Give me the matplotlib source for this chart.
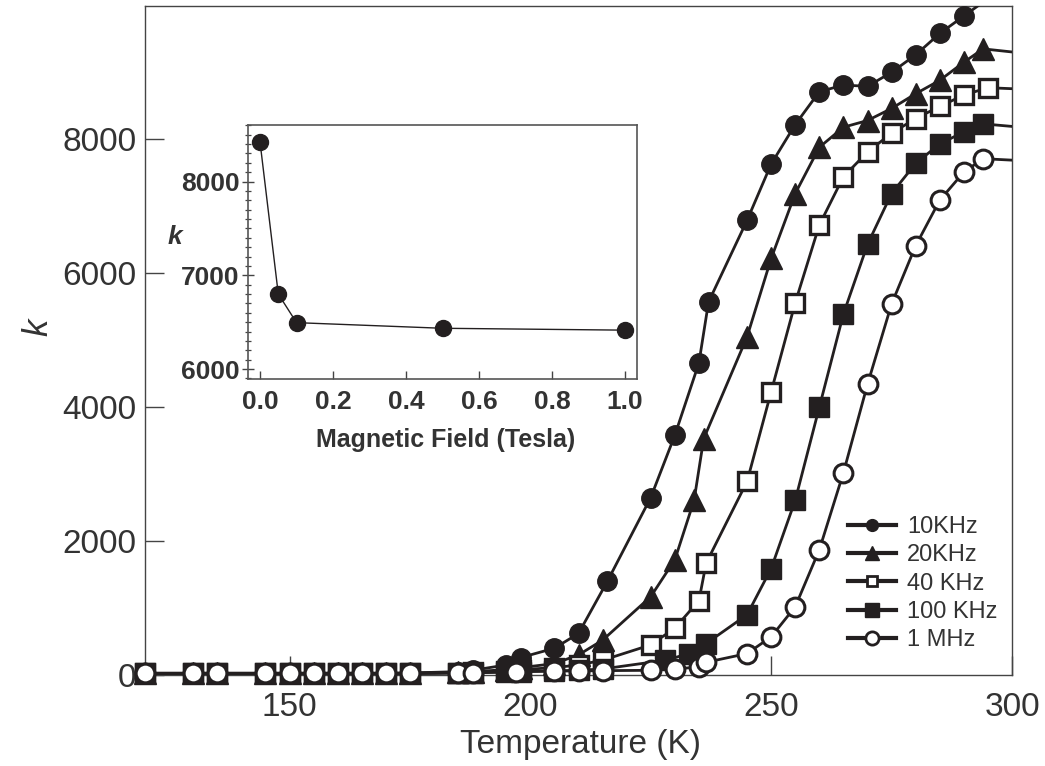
import matplotlib
matplotlib.use("Agg")
import matplotlib.pyplot as plt
from matplotlib.lines import Line2D
from matplotlib.ticker import MultipleLocator
import numpy as np

plt.rcParams['font.family'] = ['Liberation Sans', 'DejaVu Sans']

# ---------------- data ----------------
low_T = [120, 130, 135, 145, 150, 155, 160, 165, 170, 175, 185, 188]

T_10k = low_T + [195, 198, 205, 210, 216, 225, 230, 235, 237, 245, 250, 255, 260, 265, 270, 275, 280, 285, 290, 295]
K_10k = [25, 25, 25, 25, 25, 25, 25, 25, 25, 30, 50, 70,
         150, 260, 400, 620, 1400, 2650, 3580, 4660, 5570, 6790, 7630, 8220, 8710, 8810, 8790, 9000, 9260, 9580, 9840, 10100]

T_20k = low_T + [195, 198, 205, 210, 215, 225, 230, 234, 236, 245, 250, 255, 260, 265, 270, 275, 280, 285, 290, 294, 305]
K_20k = [25, 25, 25, 25, 25, 25, 25, 25, 25, 25, 40, 50,
         80, 110, 170, 300, 520, 1170, 1720, 2610, 3530, 5050, 6220, 7190, 7880, 8180, 8280, 8460, 8680, 8880, 9150, 9350, 9265]

T_40k = low_T + [195, 198, 205, 210, 215, 225, 230, 235, 236.5, 245, 250, 255, 260, 265, 270, 275, 280, 285, 290, 295, 305]
K_40k = [25, 25, 25, 25, 25, 25, 25, 25, 25, 25, 35, 40,
         60, 80, 110, 150, 220, 450, 700, 1110, 1670, 2890, 4230, 5560, 6720, 7440, 7810, 8090, 8310, 8490, 8660, 8770, 8740]

T_100k = low_T + [195, 198, 205, 210, 215, 228, 233, 236.5, 245, 250, 255, 260, 265, 270, 275, 280, 285, 290, 294, 305]
K_100k = [25, 25, 25, 25, 25, 25, 25, 25, 25, 25, 30, 35,
          45, 50, 60, 70, 90, 220, 320, 470, 900, 1590, 2610, 4000, 5390, 6430, 7190, 7640, 7930, 8110, 8230, 8160]

T_1M = low_T + [197, 205, 210, 215, 225, 230, 235, 236.5, 245, 250, 255, 260, 265, 270, 275, 280, 285, 290, 294, 305]
K_1M = [25, 25, 25, 25, 25, 25, 25, 25, 25, 25, 30, 30,
        50, 60, 60, 65, 70, 90, 120, 190, 320, 570, 1020, 1870, 3020, 4340, 5540, 6410, 7090, 7510, 7710, 7670]

series_labels = ['10KHz', '20KHz', '40 KHz', '100 KHz', '1 MHz']

# inset data
field_T = [0.0, 0.05, 0.1, 0.5, 1.0]
k_field = [8420, 6800, 6495, 6435, 6415]

# ---------------- styling ----------------
INK = '#231f20'
TXT = '#333333'
XMIN, XMAX, YMIN, YMAX = 120, 300, 0, 9990

fig = plt.figure(figsize=(10.45, 7.66), dpi=100)
W, H = 1045, 766
ax = fig.add_axes([145 / W, 1 - 675 / H, (1012 - 145) / W, (675 - 6) / H])

styles = [
    dict(marker='o', ms=14, mfc=INK, mec=INK, mew=1.0),
    dict(marker='^', ms=15.5, mfc=INK, mec=INK, mew=1.0),
    dict(marker='s', ms=12.5, mfc='white', mec=INK, mew=2.4),
    dict(marker='s', ms=14, mfc=INK, mec=INK, mew=1.0),
    dict(marker='o', ms=13.5, mfc='white', mec=INK, mew=2.2),
]
legend_sizes = [8.5, 9.5, 6.5, 10.5, 9.5]
legend_mew = [1.0, 1.0, 2.0, 1.0, 2.0]

all_T = [T_10k, T_20k, T_40k, T_100k, T_1M]
all_K = [K_10k, K_20k, K_40k, K_100k, K_1M]

handles = []
for i, (T, K, st, lab) in enumerate(zip(all_T, all_K, styles, series_labels)):
    T = np.asarray(T, float)
    K = np.asarray(K, float)
    z = 3 + i
    # connecting line, clipped to the axes
    ax.plot(T, K, '-', color=INK, lw=2.0, zorder=z, clip_on=True)
    # markers inside the visible range, drawn unclipped so baseline symbols overhang the axis
    m = (T >= XMIN) & (T <= XMAX) & (K <= YMAX)
    ax.plot(T[m], K[m], linestyle='none', zorder=z + 0.5, clip_on=False, **st)
    hst = dict(st)
    hst['ms'] = legend_sizes[i]
    hst['mew'] = legend_mew[i]
    handles.append(Line2D([], [], color=INK, lw=3.0, label=lab, **hst))

ax.set_xlim(XMIN, XMAX)
ax.set_ylim(YMIN, YMAX)
ax.set_xticks([150, 200, 250, 300])
ax.set_yticks([0, 2000, 4000, 6000, 8000])
ax.tick_params(axis='both', direction='in', length=14, width=1.0, color='#444444',
               labelsize=24, labelcolor=TXT)
ax.tick_params(axis='x', pad=12)
ax.tick_params(axis='y', pad=6)
for sp in ax.spines.values():
    sp.set_color('#444444')
    sp.set_linewidth(1.0)

ax.set_xlabel('Temperature (K)', fontsize=24, color=TXT, va='center')
ax.xaxis.set_label_coords((581 - 145) / 867, (675 - 745) / 669)
ax.set_ylabel('k', fontsize=25, color=TXT, style='italic', va='center')
ax.yaxis.set_label_coords((38 - 145) / 867, (675 - 327) / 669)

leg = ax.legend(handles=handles, loc='upper left',
                bbox_to_anchor=(848 / W, 1 - 516 / H), bbox_transform=fig.transFigure,
                frameon=False, fontsize=17, handlelength=2.05, handletextpad=0.45,
                labelspacing=0.27, borderpad=0, borderaxespad=0)
for t in leg.get_texts():
    t.set_color(TXT)

# ---------------- inset ----------------
ax2 = fig.add_axes([248 / W, 1 - 379 / H, (637 - 248) / W, (379 - 125) / H])
ax2.plot(field_T, k_field, '-', color=INK, lw=1.0, zorder=2)
ax2.plot(field_T, k_field, linestyle='none', marker='o', ms=11.5, mfc=INK, mec=INK, zorder=3,
         clip_on=False)
ax2.set_xlim(-0.033, 1.033)
ax2.set_ylim(5894, 8603)
ax2.set_xticks([0.0, 0.2, 0.4, 0.6, 0.8, 1.0])
ax2.set_xticklabels(['0.0', '0.2', '0.4', '0.6', '0.8', '1.0'])
ax2.set_yticks([6000, 7000, 8000])
ax2.yaxis.set_minor_locator(MultipleLocator(100))
ax2.tick_params(axis='x', direction='in', length=6, width=1.0, color='#444444', pad=8,
                labelsize=19, labelcolor=TXT)
ax2.tick_params(axis='y', which='major', direction='inout', length=8, width=1.0, color='#444444',
                pad=2, labelsize=19, labelcolor=TXT)
ax2.tick_params(axis='y', which='minor', direction='inout', length=5, width=0.9, color='#444444')
for lab in ax2.get_xticklabels() + ax2.get_yticklabels():
    lab.set_fontweight('bold')
for sp in ax2.spines.values():
    sp.set_color('#555555')
    sp.set_linewidth(1.2)

ax2.set_xlabel('Magnetic Field (Tesla)', fontsize=18, fontweight='bold', color=TXT, va='center')
ax2.xaxis.set_label_coords((446 - 248) / 389, (379 - 440) / 254)
ax2.set_ylabel('k', fontsize=19, fontweight='bold', style='italic', color=TXT, rotation=0,
               va='center', ha='center')
ax2.yaxis.set_label_coords((175 - 248) / 389, (379 - 237) / 254)

fig.savefig('out.png', dpi=100)
